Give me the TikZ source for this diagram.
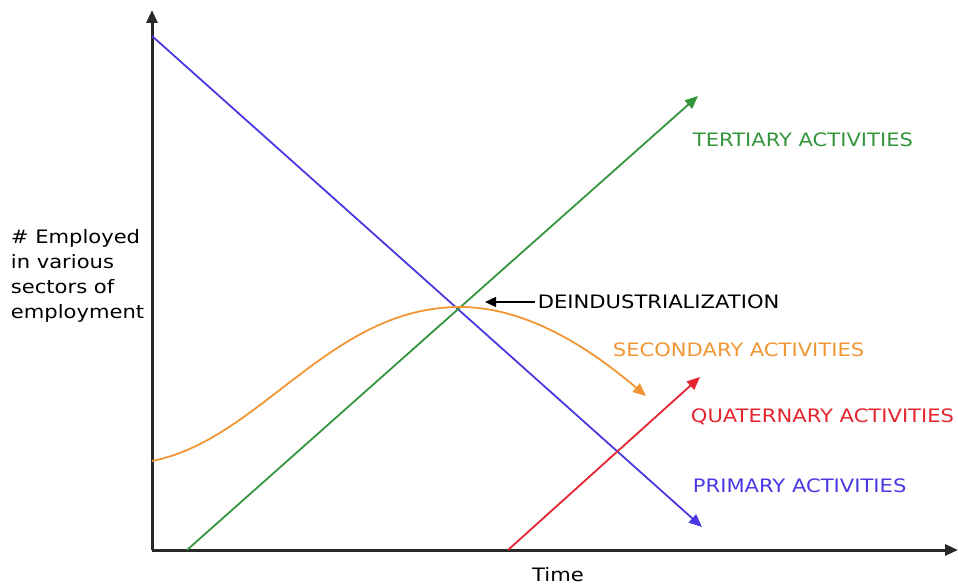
\documentclass[tikz,border=0pt]{standalone}
\usepackage{fontspec}
\setmainfont{DejaVu Sans}[FakeStretch=1.14]
\usetikzlibrary{arrows.meta}
\definecolor{primblue}{RGB}{74,56,226}
\definecolor{secorange}{RGB}{240,150,52}
\definecolor{tertgreen}{RGB}{52,150,60}
\definecolor{quatred}{RGB}{228,36,46}
\definecolor{axisgray}{RGB}{40,40,40}

\begin{document}
\begin{tikzpicture}[x=1pt,y=-1pt,->,>={Triangle[length=13pt,width=11pt]},line width=1.8pt,
  label node/.style={anchor=west,inner sep=0pt,font=\fontsize{18.5}{25}\selectfont},
  axis line/.style={line width=3pt,color=axisgray}]
                \useasboundingbox (0,0) rectangle (958,588);

                % axes
                \coordinate (origin) at (152,550);
                \coordinate (ytop) at (152,10);
                \coordinate (xend) at (958,550);
                \path[axis line] (origin) edge (ytop) (origin) edge (xend);

                % line ends
                \coordinate (p1) at (152,36);
                \coordinate (p2) at (702,527);
                \coordinate (t1) at (187,550);
                \coordinate (t2) at (698,96);
                \coordinate (q1) at (508,550);
                \coordinate (q2) at (700,377);
                \coordinate (s1) at (152,461);
                \coordinate (peak) at (460,307);
                \coordinate (s2) at (646,396);
                \coordinate (dtip) at (485,302);

                % labels
                \node[label node,color=tertgreen] (tert) at (692,140) {TERTIARY ACTIVITIES};
                \node[label node] (deind) at (537,302) {DEINDUSTRIALIZATION};
                \node[label node,color=secorange] (sec) at (612,350) {SECONDARY ACTIVITIES};
                \node[label node,color=quatred] (quat) at (690,417) {QUATERNARY ACTIVITIES};
                \node[label node,color=primblue] (prim) at (692,486) {PRIMARY ACTIVITIES};
                \node[label node,align=left] (ylab) at (10,276) {\# Employed\\in various\\sectors of\\employment};
                \node[label node,anchor=center] (time) at (558,575) {Time};

                \path[color=primblue] (p1) edge (p2);
                \path[color=tertgreen] (t1) edge (t2);
                \path[color=quatred] (q1) edge (q2);
                \draw[color=secorange] (s1) .. controls (260,440) and (330,307) .. (peak)
                    .. controls (520,307) and (580,340) .. (s2);
                \path[line width=1.3pt,>={Triangle[length=11pt,width=10pt]}]
                    ([xshift=-2pt]deind.west) edge (dtip);
\end{tikzpicture}
\end{document}
